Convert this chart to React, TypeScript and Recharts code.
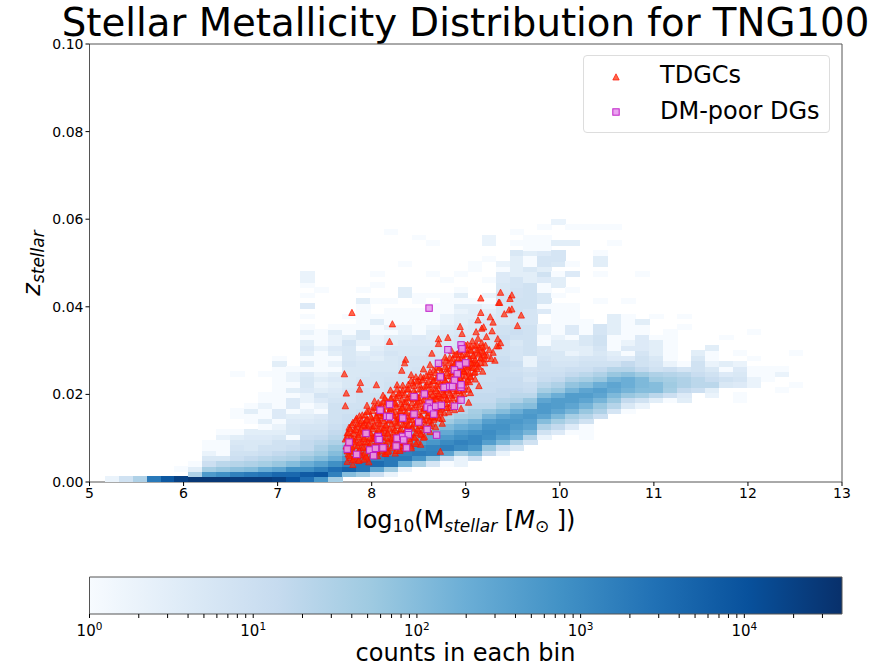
import { Legend, ReferenceArea, Scatter, ScatterChart, XAxis, YAxis } from "recharts";

const FONT = "'DejaVu Sans', sans-serif";

// matplotlib Blues, evenly spaced over log10(count)
const blues = ["#f7fbff", "#deebf7", "#c6dbef", "#9ecae1", "#6baed6", "#4292c6", "#2171b5", "#08519c", "#08306b"];

const maxCount = 39500;

const massTicks = [5, 6, 7, 8, 9, 10, 11, 12, 13];
const zTicks = [0, 0.02, 0.04, 0.06, 0.08, 0.1];
const countTicks = [
  1, 2, 3, 4, 5, 6, 7, 8, 9, 10, 20, 30, 40, 50, 60, 70, 80, 90, 100, 200, 300, 400, 500, 600, 700, 800, 900, 1000,
  2000, 3000, 4000, 5000, 6000, 7000, 8000, 9000, 10000, 20000, 30000,
];

// bin centres of the 2d histogram
const massBins = [
  5.239, 5.387, 5.536, 5.684, 5.833, 5.981, 6.129, 6.278, 6.426, 6.575, 6.723, 6.871, 7.02, 7.168, 7.317, 7.465, 7.613,
  7.762, 7.91, 8.059, 8.207, 8.355, 8.504, 8.652, 8.801, 8.949, 9.097, 9.246, 9.394, 9.543, 9.691, 9.839, 9.988, 10.136,
  10.285, 10.433, 10.581, 10.73, 10.878, 11.027, 11.175, 11.323, 11.472, 11.62, 11.769, 11.917, 12.065, 12.214, 12.362,
  12.511,
];
const zBins = [
  0.0006, 0.0018, 0.003, 0.0042, 0.0054, 0.0066, 0.0078, 0.009, 0.0102, 0.0114, 0.0126, 0.0138, 0.015, 0.0162, 0.0174,
  0.0186, 0.0198, 0.021, 0.0222, 0.0234, 0.0246, 0.0258, 0.027, 0.0282, 0.0294, 0.0306, 0.0318, 0.033, 0.0342, 0.0354,
  0.0366, 0.0378, 0.039, 0.0402, 0.0414, 0.0426, 0.0438, 0.045, 0.0462, 0.0474, 0.0486, 0.0498, 0.051, 0.0522, 0.0534,
  0.0546, 0.0558, 0.057, 0.0582, 0.0594,
];

// counts per bin, one line per mass bin, going up in z
const binCounts = [
  [2],
  [8],
  [30],
  [2000],
  [8000],
  [20000, 0, 1],
  [30000, 30, 3, 1],
  [30000, 500, 40, 10, 5, 2, 1, 1],
  [30000, 800, 60, 20, 5, 1, 1, 1, 2, 1],
  [25000, 1500, 80, 25, 10, 8, 6, 5, 3, 1, 0, 0, 1, 1, 0, 0, 0, 0, 0, 0, 1],
  [25000, 2000, 100, 30, 15, 8, 5, 5, 4, 3, 0, 1, 1, 3, 1],
  [25000, 2500, 200, 40, 20, 10, 8, 5, 4, 3, 1, 3, 1, 1, 2, 1, 1, 0, 0, 0, 1],
  [20000, 4000, 300, 60, 25, 15, 8, 8, 5, 3, 2, 1, 4, 4, 1, 1, 1, 1, 1, 1, 1, 1, 3, 1],
  [10000, 4000, 800, 100, 30, 20, 10, 8, 1, 5, 5, 4, 3, 1, 4, 4, 1, 3, 1, 2, 2, 1],
  [3000, 7000, 800, 200, 60, 30, 15, 15, 10, 8, 6, 4, 3, 2, 1, 2, 2, 4, 5, 5, 4, 1, 3, 1, 3, 4, 3, 1, 2, 1, 0, 1, 0, 4, 0, 1, 0, 1, 2, 2],
  [600, 9000, 1500, 350, 100, 50, 30, 20, 12, 8, 6, 5, 4, 1, 2, 4, 6, 3, 2, 3, 2, 1, 1, 1, 1, 2, 1, 1, 1, 0, 0, 0, 0, 0, 0, 0, 1],
  [40, 1500, 3000, 800, 200, 100, 60, 30, 20, 15, 10, 8, 8, 8, 8, 6, 5, 4, 3, 4, 3, 1, 2, 1, 3, 4, 2, 2, 3, 1],
  [0, 100, 5000, 1500, 500, 200, 100, 50, 30, 20, 15, 10, 10, 8, 8, 6, 6, 6, 5, 5, 5, 5, 6, 5, 5, 5, 6, 3, 1, 1, 0, 1],
  [0, 50, 2500, 2500, 800, 300, 150, 70, 40, 25, 18, 12, 10, 10, 8, 8, 8, 8, 6, 6, 5, 5, 5, 4, 3, 1, 2, 5, 5, 1, 1, 1, 1, 1, 3, 0, 1],
  [0, 10, 300, 3500, 1500, 500, 200, 100, 60, 30, 20, 15, 12, 10, 10, 8, 8, 6, 6, 6, 6, 5, 5, 3, 4, 3, 2, 2, 1, 1, 3, 1, 0, 0, 1, 0, 0, 1, 0, 1],
  [0, 2, 50, 2000, 2000, 800, 300, 150, 80, 40, 25, 18, 15, 12, 10, 10, 8, 8, 8, 7, 6, 5, 5, 5, 6, 5, 3, 3, 1, 2, 1, 1, 1, 0, 1, 0, 0, 0, 0, 0, 0, 0, 0, 0, 0, 0, 0, 1],
  [0, 0, 2, 200, 2000, 1500, 500, 250, 120, 60, 30, 20, 15, 12, 12, 10, 10, 8, 8, 8, 7, 6, 6, 6, 5, 5, 4, 3, 2, 2, 1, 1, 1, 0, 0, 3, 3, 0, 0, 0, 0, 1],
  [0, 0, 0, 40, 700, 1800, 1000, 400, 200, 100, 50, 25, 18, 15, 12, 12, 10, 10, 8, 8, 8, 7, 6, 6, 5, 5, 4, 4, 1, 1, 1, 1, 1, 0, 1, 1, 0, 0, 0, 0, 0, 0, 0, 0, 0, 0, 1],
  [0, 0, 0, 6, 100, 1500, 1300, 600, 300, 150, 70, 35, 20, 15, 12, 12, 10, 10, 8, 8, 8, 8, 7, 7, 6, 5, 4, 3, 3, 2, 1, 1, 1, 1, 0, 1, 0, 0, 0, 1, 0, 0, 0, 0, 0, 1],
  [0, 0, 0, 1, 15, 300, 1600, 1000, 500, 250, 120, 50, 25, 18, 15, 12, 12, 10, 10, 8, 8, 8, 8, 7, 7, 6, 5, 5, 4, 3, 2, 2, 1, 1, 1, 1, 0, 0, 1],
  [0, 0, 0, 2, 2, 40, 1000, 1400, 800, 500, 200, 90, 40, 22, 15, 12, 12, 10, 10, 10, 8, 8, 8, 8, 7, 7, 6, 6, 5, 4, 3, 3, 2, 3, 1, 3, 1, 0, 0, 1],
  [0, 0, 0, 0, 10, 100, 600, 1100, 1100, 700, 300, 150, 50, 40, 20, 15, 15, 12, 12, 10, 10, 10, 8, 8, 8, 7, 6, 6, 5, 5, 4, 3, 3, 3, 1, 0, 0, 0, 0, 0, 1, 1],
  [0, 0, 0, 0, 0, 15, 60, 400, 800, 900, 700, 400, 150, 60, 20, 15, 15, 12, 12, 10, 10, 10, 10, 8, 8, 8, 7, 7, 6, 5, 5, 4, 3, 2, 1, 2, 0, 0, 1, 0, 0, 0, 1, 0, 0, 2, 2],
  [0, 0, 0, 0, 0, 2, 10, 120, 350, 600, 700, 600, 300, 100, 40, 25, 15, 15, 12, 12, 10, 10, 12, 10, 8, 8, 8, 10, 8, 8, 5, 5, 5, 5, 6, 6, 5, 5, 4, 4, 1, 2],
  [0, 0, 0, 0, 0, 0, 5, 30, 200, 300, 450, 550, 450, 200, 80, 30, 20, 15, 12, 12, 10, 8, 10, 6, 6, 6, 5, 8, 10, 8, 6, 6, 8, 8, 8, 7, 7, 6, 6, 3, 3, 3, 3, 5, 0, 1, 0, 1],
  [0, 0, 0, 0, 0, 0, 0, 8, 30, 150, 300, 400, 550, 450, 100, 60, 20, 12, 10, 6, 8, 6, 2, 2, 8, 8, 8, 8, 8, 8, 6, 6, 6, 8, 8, 8, 8, 8, 3, 3, 5, 1, 1, 3, 1, 1, 1],
  [0, 0, 0, 0, 0, 0, 0, 0, 2, 8, 30, 100, 300, 500, 500, 300, 100, 40, 20, 12, 10, 8, 8, 6, 5, 5, 1, 1, 2, 2, 0, 0, 4, 1, 5, 5, 1, 1, 4, 8, 3, 6, 6, 4, 1, 1, 1, 0, 1],
  [0, 0, 0, 0, 0, 0, 0, 0, 0, 4, 15, 40, 120, 300, 450, 450, 200, 60, 30, 15, 10, 8, 6, 5, 5, 3, 3, 2, 1, 1, 1, 1, 1, 1, 0, 1, 0, 3, 3, 1, 0, 5, 6, 6, 0, 3, 0, 0, 0, 2],
  [0, 0, 0, 0, 0, 0, 0, 0, 0, 1, 4, 20, 40, 150, 300, 450, 450, 150, 70, 30, 15, 10, 6, 5, 2, 3, 3, 1, 4, 4, 1, 1, 1, 1, 0, 0, 1, 0, 0, 4, 0, 1, 0, 0, 0, 3, 0, 0, 1],
  [0, 0, 0, 0, 0, 0, 0, 0, 1, 1, 1, 8, 25, 60, 150, 300, 450, 300, 100, 40, 20, 10, 8, 6, 3, 3, 5, 5, 1, 1, 1, 0, 0, 0, 0, 0, 0, 0, 0, 0, 0, 0, 0, 0, 0, 0, 0, 0, 1],
  [0, 0, 0, 0, 0, 0, 0, 0, 0, 0, 0, 0, 10, 30, 60, 150, 300, 400, 200, 60, 30, 15, 8, 6, 5, 6, 8, 8, 6, 6, 0, 0, 0, 0, 1, 0, 0, 0, 0, 1, 0, 3, 3, 1, 0, 0, 0, 0, 1],
  [0, 0, 0, 0, 0, 0, 0, 0, 0, 0, 0, 0, 0, 6, 25, 60, 120, 250, 300, 150, 60, 25, 8, 4, 3, 1, 1, 1, 3, 3, 3, 3, 0, 0, 0, 0, 0, 0, 0, 0, 0, 0, 0, 0, 0, 1, 0, 0, 1],
  [0, 0, 0, 0, 0, 0, 0, 0, 0, 0, 0, 0, 0, 1, 5, 15, 60, 150, 200, 200, 80, 25, 15, 4, 1, 4, 2, 1, 1, 1, 1, 1, 0, 0, 1],
  [0, 0, 0, 0, 0, 0, 0, 0, 0, 0, 0, 0, 0, 0, 2, 8, 40, 100, 120, 120, 50, 15, 8, 8, 6, 4, 4, 4, 1, 1, 3, 0, 0, 0, 0, 0, 0, 0, 0, 1],
  [0, 0, 0, 0, 0, 0, 0, 0, 0, 0, 0, 0, 0, 0, 0, 3, 20, 100, 100, 50, 30, 8, 6, 5, 3, 3, 3, 1, 0, 0, 0, 1],
  [0, 0, 0, 0, 0, 0, 0, 0, 0, 0, 0, 0, 0, 0, 0, 1, 10, 40, 50, 40, 25, 10, 2, 1, 1, 1, 1, 1, 1],
  [0, 0, 0, 0, 0, 0, 0, 0, 0, 0, 0, 0, 0, 0, 0, 3, 4, 15, 30, 30, 20, 6, 1, 0, 0, 0, 0, 0, 0, 1, 0, 1],
  [0, 0, 0, 0, 0, 0, 0, 0, 0, 0, 0, 0, 0, 0, 0, 0, 0, 10, 20, 20, 12, 8, 8, 5, 3],
  [0, 0, 0, 0, 0, 0, 0, 0, 0, 0, 0, 0, 0, 0, 0, 0, 2, 3, 20, 12, 8, 5, 2, 1, 1, 3],
  [0, 0, 0, 0, 0, 0, 0, 0, 0, 0, 0, 0, 0, 0, 0, 0, 0, 0, 5, 8, 4, 1, 3, 0, 0, 0, 0, 1],
  [0, 0, 0, 0, 0, 0, 0, 0, 0, 0, 0, 0, 0, 0, 0, 1, 1, 0, 4, 6, 5, 4, 2, 0, 1],
  [0, 0, 0, 0, 0, 0, 0, 0, 0, 0, 0, 0, 0, 0, 0, 0, 0, 0, 2, 2, 1, 1, 0, 1, 0, 0, 0, 0, 1],
  [0, 0, 0, 0, 0, 0, 0, 0, 0, 0, 0, 0, 0, 0, 0, 0, 0, 0, 0, 1, 1, 1],
  [0, 0, 0, 0, 0, 0, 0, 0, 0, 0, 0, 0, 0, 0, 0, 0, 0, 1, 0, 0, 2, 1],
  [0, 0, 0, 0, 0, 0, 0, 0, 0, 0, 0, 0, 0, 0, 0, 0, 0, 0, 1, 0, 0, 0, 0, 0, 1],
];

const tdgcPoints = [
  [7.79, 0.0387], [8.22, 0.0361], [8.19, 0.0321], [7.71, 0.0247], [7.88, 0.0227], [8.05, 0.0222], [7.87, 0.0212],
  [7.73, 0.0203], [7.72, 0.0174], [8.36, 0.028], [8.35, 0.0272], [8.32, 0.0255], [8.64, 0.0294], [8.71, 0.0327],
  [8.71, 0.0316], [8.81, 0.033], [8.94, 0.0355], [8.96, 0.0339], [9.16, 0.042], [9.37, 0.0433], [9.49, 0.0427],
  [9.47, 0.0419], [9.35, 0.041], [9.36, 0.041], [9.59, 0.0381], [9.16, 0.0387], [9.26, 0.0377], [9.29, 0.0365],
  [9.13, 0.037], [9.41, 0.0384], [9.46, 0.0393], [9.49, 0.0395], [9.55, 0.0357], [9.28, 0.0345], [9.11, 0.0343],
  [9.17, 0.0351], [9.19, 0.0354], [9.22, 0.0332], [9.34, 0.0327], [9.35, 0.0311], [9.33, 0.0311], [9.37, 0.0318],
  [9.18, 0.0253], [9.14, 0.022], [9.1, 0.0235], [9.04, 0.0229], [8.95, 0.0168], [9.05, 0.0204], [9.03, 0.0182],
  [8.75, 0.0134], [8.73, 0.007], [8.52, 0.0086], [7.97, 0.0046], [7.8, 0.004], [7.74, 0.0047], [8.25, 0.0066],
  [7.72, 0.0098], [7.73, 0.0082], [7.74, 0.0112], [7.75, 0.0064], [7.76, 0.0125], [7.77, 0.0056], [7.77, 0.0089],
  [7.78, 0.0104], [7.79, 0.0072], [7.8, 0.0136], [7.81, 0.0118], [7.81, 0.0054], [7.82, 0.0084], [7.83, 0.0097],
  [7.84, 0.0146], [7.85, 0.0126], [7.85, 0.0068], [7.86, 0.0108], [7.87, 0.0051], [7.88, 0.0078], [7.88, 0.0135],
  [7.89, 0.0092], [7.9, 0.0153], [7.91, 0.0118], [7.91, 0.0062], [7.92, 0.0103], [7.93, 0.0081], [7.94, 0.0141],
  [7.95, 0.0128], [7.95, 0.0055], [7.96, 0.0092], [7.97, 0.0162], [7.98, 0.0113], [7.99, 0.0071], [8.0, 0.0146],
  [8.0, 0.0099], [8.01, 0.0127], [8.02, 0.0064], [8.03, 0.0084], [8.04, 0.017], [8.05, 0.0112], [8.05, 0.0152],
  [8.06, 0.0068], [8.07, 0.0135], [8.08, 0.0093], [8.09, 0.0122], [8.1, 0.0178], [8.1, 0.0077], [8.11, 0.0146],
  [8.12, 0.0103], [8.13, 0.0162], [8.14, 0.0066], [8.15, 0.0128], [8.15, 0.0088], [8.16, 0.0185], [8.17, 0.0113],
  [8.18, 0.0072], [8.19, 0.0141], [8.2, 0.0099], [8.2, 0.0168], [8.21, 0.0191], [8.22, 0.0083], [8.23, 0.0124],
  [8.24, 0.0152], [8.25, 0.0107], [8.25, 0.0178], [8.26, 0.0072], [8.27, 0.0136], [8.28, 0.0197], [8.29, 0.0091],
  [8.3, 0.0163], [8.3, 0.0118], [8.31, 0.0146], [8.32, 0.0204], [8.33, 0.0076], [8.34, 0.0102], [8.35, 0.0183],
  [8.35, 0.0131], [8.36, 0.0157], [8.37, 0.0088], [8.38, 0.0212], [8.39, 0.0115], [8.4, 0.017], [8.4, 0.0142],
  [8.41, 0.0194], [8.42, 0.0082], [8.43, 0.0127], [8.44, 0.0226], [8.45, 0.0158], [8.45, 0.0103], [8.46, 0.0203],
  [8.47, 0.0176], [8.48, 0.0136], [8.49, 0.0092], [8.5, 0.0232], [8.5, 0.0117], [8.51, 0.0186], [8.52, 0.015],
  [8.53, 0.0213], [8.54, 0.0128], [8.55, 0.0168], [8.55, 0.0238], [8.56, 0.0104], [8.57, 0.0196], [8.58, 0.0143],
  [8.59, 0.0222], [8.6, 0.0122], [8.6, 0.0178], [8.61, 0.0244], [8.62, 0.0158], [8.63, 0.0206], [8.64, 0.0134],
  [8.65, 0.0231], [8.65, 0.0188], [8.66, 0.0256], [8.67, 0.0148], [8.68, 0.0214], [8.69, 0.0172], [8.7, 0.0264],
  [8.7, 0.0238], [8.71, 0.0196], [8.72, 0.0146], [8.73, 0.0224], [8.74, 0.0272], [8.75, 0.0178], [8.75, 0.0248],
  [8.76, 0.0206], [8.77, 0.0158], [8.78, 0.0232], [8.79, 0.0278], [8.8, 0.0189], [8.8, 0.0258], [8.81, 0.0214],
  [8.82, 0.017], [8.83, 0.0284], [8.84, 0.0242], [8.85, 0.0198], [8.85, 0.0266], [8.86, 0.0226], [8.87, 0.0176],
  [8.88, 0.029], [8.89, 0.0252], [8.9, 0.0208], [8.9, 0.0274], [8.91, 0.0236], [8.92, 0.0186], [8.93, 0.0298],
  [8.94, 0.0262], [8.95, 0.0218], [8.95, 0.0282], [8.96, 0.0244], [8.97, 0.0306], [8.98, 0.0202], [8.99, 0.027],
  [9.0, 0.0228], [9.0, 0.0292], [9.01, 0.0252], [9.02, 0.0314], [9.03, 0.0212], [9.04, 0.0278], [9.05, 0.0242],
  [9.05, 0.0302], [9.06, 0.0262], [9.07, 0.0322], [9.08, 0.0288], [9.09, 0.025], [9.1, 0.0312], [9.1, 0.0272],
  [9.12, 0.0296], [9.13, 0.0328], [9.14, 0.0264], [9.15, 0.0306], [9.16, 0.0284], [9.17, 0.0318], [9.19, 0.0296],
  [9.2, 0.0272], [9.21, 0.0312], [9.23, 0.0288], [9.25, 0.0302], [9.27, 0.0282], [9.29, 0.0296], [9.31, 0.0278],
  [7.75, 0.0076], [7.83, 0.0062], [7.92, 0.0135], [8.03, 0.0105], [8.08, 0.0158], [8.13, 0.0118], [8.18, 0.0155],
  [8.23, 0.0096], [8.28, 0.0145], [8.33, 0.0172], [8.38, 0.0128], [8.43, 0.0152], [8.48, 0.0192], [8.53, 0.0108],
  [8.58, 0.0166], [8.63, 0.0148], [8.68, 0.0196], [8.73, 0.0166], [8.78, 0.0198], [8.83, 0.0222], [8.88, 0.0268],
  [8.93, 0.0228], [8.98, 0.0254], [9.03, 0.0266], [9.08, 0.0272],
  // rough outer edges of the cloud
  [8.15, 0.0065], [8.3, 0.0072], [8.42, 0.0078], [8.47, 0.0088], [8.55, 0.0102], [8.62, 0.0115], [8.68, 0.0126],
  [8.75, 0.0145], [8.82, 0.016], [8.88, 0.0165], [7.95, 0.0175], [8.03, 0.0185], [8.12, 0.0198], [8.2, 0.021],
  [8.27, 0.0222], [8.42, 0.0245], [8.47, 0.024], [8.55, 0.0258], [8.62, 0.0268], [8.78, 0.0285], [8.85, 0.03],
  // dense part of the cloud, read row by row
  [7.8, 0.0051], [7.86, 0.0049], [7.92, 0.0052],
  [7.76, 0.0061], [7.82, 0.0059], [7.88, 0.0062], [7.94, 0.0059], [8.0, 0.0062], [8.06, 0.006],
  [7.74, 0.0071], [7.81, 0.0069], [7.87, 0.0072], [7.93, 0.0068], [7.99, 0.0072], [8.05, 0.0074], [8.11, 0.0071], [8.17, 0.0069],
  [7.73, 0.0082], [7.79, 0.008], [7.85, 0.0083], [7.91, 0.0079], [7.97, 0.0082], [8.03, 0.0078], [8.09, 0.0083], [8.15, 0.008], [8.21, 0.0078], [8.27, 0.0081], [8.33, 0.0083],
  [7.75, 0.0091], [7.81, 0.0093], [7.87, 0.009], [7.93, 0.0092], [7.99, 0.0089], [8.05, 0.0092], [8.11, 0.009], [8.17, 0.0093], [8.23, 0.0089], [8.29, 0.0092], [8.35, 0.009], [8.41, 0.0093],
  [7.74, 0.0102], [7.8, 0.01], [7.86, 0.0103], [7.92, 0.0099], [7.98, 0.0102], [8.04, 0.01], [8.1, 0.0104], [8.16, 0.0101], [8.22, 0.0102], [8.28, 0.01], [8.34, 0.0103], [8.4, 0.0099], [8.46, 0.0102],
  [7.75, 0.0113], [7.81, 0.0111], [7.87, 0.0114], [7.93, 0.011], [7.99, 0.0112], [8.05, 0.0109], [8.11, 0.0113], [8.17, 0.0111], [8.23, 0.0114], [8.29, 0.011], [8.35, 0.0112], [8.41, 0.0109], [8.47, 0.0113], [8.52, 0.011],
  [7.77, 0.0122], [7.83, 0.012], [7.89, 0.0123], [7.95, 0.0119], [8.01, 0.0122], [8.07, 0.012], [8.13, 0.0124], [8.19, 0.0121], [8.25, 0.0119], [8.31, 0.0122], [8.37, 0.012], [8.43, 0.0123], [8.49, 0.0121], [8.55, 0.0119],
  [7.79, 0.0131], [7.85, 0.0133], [7.91, 0.013], [7.97, 0.0132], [8.03, 0.0129], [8.09, 0.0133], [8.15, 0.0131], [8.21, 0.0133], [8.27, 0.0129], [8.33, 0.0132], [8.39, 0.013], [8.45, 0.0133], [8.51, 0.0129], [8.57, 0.0131], [8.62, 0.0129],
  [7.83, 0.0142], [7.89, 0.014], [7.95, 0.0143], [8.01, 0.0139], [8.07, 0.0142], [8.13, 0.014], [8.19, 0.0143], [8.25, 0.0139], [8.31, 0.0142], [8.37, 0.014], [8.43, 0.0143], [8.49, 0.0139], [8.55, 0.0142], [8.61, 0.014], [8.66, 0.0143],
  [7.87, 0.0151], [7.93, 0.0153], [7.99, 0.015], [8.05, 0.0148], [8.11, 0.0152], [8.17, 0.015], [8.23, 0.0153], [8.29, 0.0149], [8.35, 0.0152], [8.41, 0.015], [8.47, 0.0153], [8.53, 0.0149], [8.59, 0.0152], [8.65, 0.015], [8.7, 0.0153],
  [7.95, 0.0161], [8.01, 0.0163], [8.07, 0.016], [8.13, 0.0158], [8.19, 0.0162], [8.25, 0.016], [8.31, 0.0163], [8.37, 0.0159], [8.43, 0.0162], [8.49, 0.016], [8.55, 0.0163], [8.61, 0.0159], [8.67, 0.0162], [8.73, 0.016],
  [8.02, 0.0172], [8.08, 0.017], [8.14, 0.0173], [8.2, 0.0169], [8.26, 0.0172], [8.32, 0.017], [8.38, 0.0173], [8.44, 0.0169], [8.5, 0.0172], [8.56, 0.017], [8.62, 0.0173], [8.68, 0.0169], [8.74, 0.0172], [8.8, 0.017],
  [8.07, 0.0181], [8.13, 0.0183], [8.19, 0.018], [8.25, 0.0182], [8.31, 0.0179], [8.37, 0.0183], [8.43, 0.0181], [8.49, 0.0183], [8.55, 0.0179], [8.61, 0.0182], [8.67, 0.018], [8.73, 0.0183], [8.79, 0.0179], [8.85, 0.0181],
  [8.14, 0.0192], [8.2, 0.019], [8.26, 0.0193], [8.32, 0.0189], [8.38, 0.0192], [8.44, 0.019], [8.5, 0.0193], [8.56, 0.0189], [8.62, 0.0192], [8.68, 0.019], [8.74, 0.0193], [8.8, 0.0189], [8.86, 0.0192], [8.92, 0.019],
  [8.23, 0.0201], [8.29, 0.0203], [8.35, 0.02], [8.41, 0.0202], [8.47, 0.0199], [8.53, 0.0203], [8.59, 0.0201], [8.65, 0.0199], [8.71, 0.0202], [8.77, 0.02], [8.83, 0.0203], [8.89, 0.0199], [8.95, 0.0201],
  [8.27, 0.0212], [8.33, 0.021], [8.39, 0.0213], [8.45, 0.0209], [8.51, 0.0212], [8.57, 0.021], [8.63, 0.0213], [8.69, 0.0209], [8.75, 0.0212], [8.81, 0.021], [8.87, 0.0213], [8.93, 0.0209], [8.98, 0.0212],
  [8.33, 0.0221], [8.39, 0.0223], [8.45, 0.022], [8.51, 0.0222], [8.57, 0.0219], [8.63, 0.0223], [8.69, 0.0221], [8.75, 0.0219], [8.81, 0.0222], [8.87, 0.022], [8.93, 0.0223], [8.99, 0.0219],
  [8.42, 0.0232], [8.48, 0.023], [8.54, 0.0233], [8.6, 0.0229], [8.66, 0.0232], [8.72, 0.023], [8.78, 0.0233], [8.84, 0.0229], [8.9, 0.0232], [8.96, 0.023], [9.02, 0.0233],
  [8.52, 0.0241], [8.58, 0.0243], [8.64, 0.024], [8.7, 0.0242], [8.76, 0.0239], [8.82, 0.0243], [8.88, 0.0241], [8.94, 0.0239], [9.0, 0.0242], [9.05, 0.024],
  [8.62, 0.0252], [8.68, 0.025], [8.74, 0.0253], [8.8, 0.0249], [8.86, 0.0252], [8.92, 0.025], [8.98, 0.0253], [9.04, 0.0249], [9.1, 0.0252],
  [8.72, 0.0261], [8.78, 0.0263], [8.84, 0.026], [8.9, 0.0262], [8.96, 0.0259], [9.02, 0.0263], [9.08, 0.0261], [9.12, 0.0259],
  [8.82, 0.0272], [8.88, 0.027], [8.94, 0.0273], [9.0, 0.0269], [9.06, 0.0272], [9.12, 0.027], [9.16, 0.0273],
  [8.86, 0.0281], [8.92, 0.0283], [8.98, 0.028], [9.04, 0.0282], [9.1, 0.0279], [9.16, 0.0283], [9.2, 0.0281],
  [8.9, 0.0292], [8.96, 0.029], [9.02, 0.0293], [9.08, 0.0289], [9.14, 0.0292], [9.2, 0.029],
  [8.94, 0.0301], [9.0, 0.0303], [9.06, 0.03], [9.12, 0.0302], [9.18, 0.0299],
  [9.0, 0.0312], [9.06, 0.031], [9.12, 0.0313], [9.18, 0.0309],
];

const poorPoints = [
  [8.61, 0.0397], [8.95, 0.0313], [8.96, 0.0304], [8.81, 0.0302], [9.0, 0.0272], [8.71, 0.0271], [8.93, 0.0267],
  [8.88, 0.0256], [8.91, 0.0247], [8.73, 0.024], [8.88, 0.0232], [8.77, 0.0216], [8.83, 0.0218], [8.86, 0.0218],
  [8.95, 0.0216], [8.95, 0.0222], [8.56, 0.0201], [8.45, 0.0195], [8.95, 0.0187], [8.61, 0.018], [8.59, 0.0171],
  [8.63, 0.0167], [8.68, 0.0173], [8.74, 0.0175], [8.88, 0.0173], [8.19, 0.0177], [8.09, 0.0164], [8.16, 0.015],
  [8.19, 0.0149], [8.45, 0.0155], [8.66, 0.0155], [8.33, 0.0146], [8.5, 0.0137], [8.59, 0.012], [8.69, 0.0107],
  [7.94, 0.0111], [8.07, 0.0104], [8.07, 0.0097], [8.08, 0.0097], [8.27, 0.01], [8.33, 0.0104], [8.39, 0.0113],
  [8.39, 0.0108], [8.34, 0.0096], [7.76, 0.0091], [7.74, 0.0075], [8.26, 0.0082], [8.37, 0.0078], [7.98, 0.0073],
  [8.04, 0.0077], [8.12, 0.0078], [7.84, 0.0063], [8.02, 0.006],
];

// the two ends of the colour bar's count range
const barEnds = [
  { x: 1, y: 0 },
  { x: maxCount, y: 1 },
];

// log norm colour lookup for the histogram
function countColor(count: number) {
  const t = Math.min(Math.log10(count) / Math.log10(maxCount), 1) * (blues.length - 1);
  const i = Math.min(Math.floor(t), blues.length - 2);
  const f = t - i;
  const rgb = [1, 3, 5].map((p) => {
    const a = parseInt(blues[i].slice(p, p + 2), 16);
    const b = parseInt(blues[i + 1].slice(p, p + 2), 16);
    return Math.round(a + (b - a) * f);
  });
  return `rgb(${rgb.join(",")})`;
}

const cells = massBins.flatMap((x, i) =>
  (binCounts[i] || []).flatMap((count, j) => (count > 0 ? [{ x, y: zBins[j], count }] : [])),
);
const tdgcs = tdgcPoints.map(([x, y]) => ({ x, y }));
const poorDgs = poorPoints.map(([x, y]) => ({ x, y }));

const CELL_W = 14.6;
const CELL_H = 5.8;

function HistCell(props: any) {
  return (
    <rect
      x={props.cx - CELL_W / 2}
      y={props.cy - CELL_H / 2}
      width={CELL_W}
      height={CELL_H}
      fill={countColor(props.payload.count)}
      shapeRendering="crispEdges"
    />
  );
}

function TriangleMark(props: any) {
  const { cx, cy } = props;
  return (
    <polygon
      points={`${cx - 3.2},${cy + 3} ${cx + 3.2},${cy + 3} ${cx},${cy - 3.2}`}
      fill="#ff2a00"
      fillOpacity={0.7}
      stroke="#ff1000"
      strokeOpacity={0.7}
      strokeWidth={1}
    />
  );
}

function SquareMark(props: any) {
  const { cx, cy } = props;
  return (
    <rect
      x={cx - 3.2}
      y={cy - 3.2}
      width={6.4}
      height={6.4}
      fill="#e89aee"
      fillOpacity={0.9}
      stroke="#c020c8"
      strokeWidth={1}
    />
  );
}

function LegendBox() {
  const rowStyle = { position: "absolute" as const, left: 76, fontSize: 24, lineHeight: "28px", color: "#000" };
  return (
    <div
      style={{
        position: "relative",
        width: 247,
        height: 78,
        boxSizing: "border-box",
        background: "rgba(255,255,255,0.8)",
        border: "1px solid #ddd",
        borderRadius: 4,
        fontFamily: FONT,
      }}
    >
      <svg width={60} height={78} style={{ position: "absolute", left: 0, top: 0 }}>
        <TriangleMark cx={32} cy={21} />
        <SquareMark cx={32} cy={56} />
      </svg>
      <span style={{ ...rowStyle, top: 5 }}>TDGCs</span>
      <span style={{ ...rowStyle, top: 41 }}>DM-poor DGs</span>
    </div>
  );
}

function MassLabel(props: any) {
  const cx = props.viewBox.x + props.viewBox.width / 2;
  return (
    <text x={cx} y={528} textAnchor="middle" fontFamily={FONT} fontSize={24} fill="#000">
      log
      <tspan fontSize={17} dy={4}>10</tspan>
      <tspan dy={-4}>(M</tspan>
      <tspan fontSize={17} dy={4} fontStyle="italic">stellar</tspan>
      <tspan dy={-4}> [</tspan>
      <tspan fontStyle="italic">M</tspan>
      <tspan fontSize={17} dy={4}>⊙</tspan>
      <tspan dy={-4}> ])</tspan>
    </text>
  );
}

function ZLabel() {
  return (
    <text transform="translate(40,263) rotate(-90)" textAnchor="middle" fontFamily={FONT} fontSize={24} fill="#000">
      <tspan fontStyle="italic">z</tspan>
      <tspan fontSize={17} dy={4} fontStyle="italic">stellar</tspan>
    </text>
  );
}

function CountTick(props: any) {
  const { x, y, payload } = props;
  const power = Math.log10(payload.value);
  if (Math.abs(power - Math.round(power)) > 1e-6) return null;
  return (
    <text x={x} y={y + 16} textAnchor="middle" fontFamily={FONT} fontSize={15} fill="#000">
      10
      <tspan fontSize={10.5} dy={-6}>{Math.round(power)}</tspan>
    </text>
  );
}

export default function App() {
  const tickStyle = { fontFamily: FONT, fontSize: 14, fill: "#000" };
  return (
    <div style={{ position: "absolute", left: 0, top: 0, width: 894, height: 664, background: "#fff", overflow: "hidden" }}>
      <div
        style={{
          position: "absolute",
          left: 0,
          width: 931,
          top: 0,
          textAlign: "center",
          fontFamily: FONT,
          fontSize: 38.7,
          lineHeight: "46px",
          whiteSpace: "nowrap",
          color: "#000",
        }}
      >
        Stellar Metallicity Distribution for TNG100
      </div>

      <div style={{ position: "absolute", left: 0, top: 0 }}>
        <ScatterChart width={894} height={570} margin={{ top: 44, right: 52, bottom: 0, left: 0 }}>
          <XAxis
            type="number"
            dataKey="x"
            domain={[5, 13]}
            ticks={massTicks}
            interval={0}
            height={88}
            tick={tickStyle}
            tickSize={4}
            tickLine={{ stroke: "#000" }}
            axisLine={false}
            label={<MassLabel />}
          />
          <YAxis
            type="number"
            dataKey="y"
            domain={[0, 0.1]}
            ticks={zTicks}
            interval={0}
            width={89.5}
            tick={tickStyle}
            tickSize={4}
            tickLine={{ stroke: "#000" }}
            axisLine={false}
            tickFormatter={(v: number) => v.toFixed(2)}
            label={<ZLabel />}
          />
          <Legend
            layout="vertical"
            align="center"
            verticalAlign="middle"
            content={<LegendBox />}
            wrapperStyle={{ left: 583, top: 55, width: 247, height: 78, margin: 0 }}
          />
          <Scatter data={cells} shape={<HistCell />} isAnimationActive={false} legendType="none" />
          <Scatter name="TDGCs" data={tdgcs} shape={<TriangleMark />} isAnimationActive={false} />
          <Scatter name="DM-poor DGs" data={poorDgs} shape={<SquareMark />} isAnimationActive={false} />
          <ReferenceArea x1={5} x2={13} y1={0} y2={0.1} fill="none" stroke="#555" strokeWidth={1} />
        </ScatterChart>
      </div>

      <div style={{ position: "absolute", left: 0, top: 570 }}>
        <ScatterChart width={894} height={94} margin={{ top: 7, right: 52, bottom: 0, left: 89.5 }}>
          <defs>
            <linearGradient id="bluesBar" x1="0" y1="0" x2="1" y2="0">
              {blues.map((c, i) => (
                <stop key={c} offset={i / (blues.length - 1)} stopColor={c} />
              ))}
            </linearGradient>
          </defs>
          <XAxis
            type="number"
            dataKey="x"
            scale="log"
            domain={[1, maxCount]}
            ticks={countTicks}
            interval={0}
            height={50}
            tick={<CountTick />}
            tickSize={4}
            tickLine={{ stroke: "#000" }}
            axisLine={false}
            allowDataOverflow
          />
          <YAxis type="number" dataKey="y" domain={[0, 1]} width={0} hide />
          <Scatter data={barEnds} shape={() => null} isAnimationActive={false} legendType="none" />
          <ReferenceArea x1={1} x2={maxCount} y1={0} y2={1} fill="url(#bluesBar)" fillOpacity={1} stroke="#555" strokeWidth={1} />
        </ScatterChart>
      </div>

      <div
        style={{
          position: "absolute",
          left: 89,
          width: 753,
          top: 642,
          textAlign: "center",
          fontFamily: FONT,
          fontSize: 24,
          lineHeight: "22px",
          color: "#000",
        }}
      >
        counts in each bin
      </div>
    </div>
  );
}
